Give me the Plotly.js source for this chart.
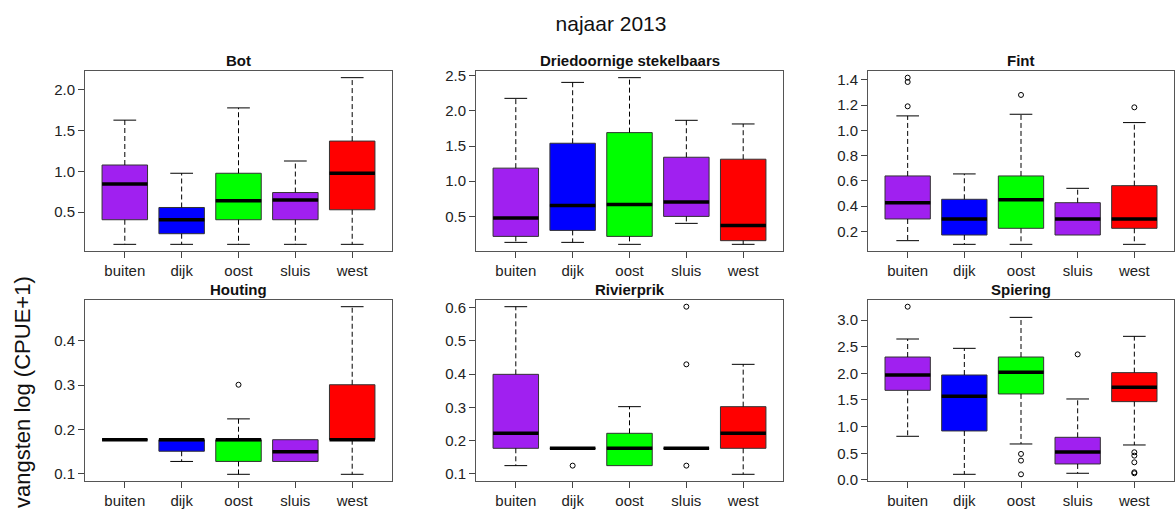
<!DOCTYPE html>
<html>
<head>
<meta charset="utf-8">
<script src="https://cdn.plot.ly/plotly-3.0.1.min.js"></script>
<style>html,body{margin:0;padding:0;background:#fff;}#chart{width:1175px;height:509px;}</style>
</head>
<body>
<div id="chart"></div>
<script>
// ---- data ----
const categories = ['buiten', 'dijk', 'oost', 'sluis', 'west'];

const botLower  = [0.106, 0.106, 0.106, 0.106, 0.106];
const botQ1     = [0.407, 0.236, 0.407, 0.407, 0.529];
const botMedian = [0.846, 0.407, 0.638, 0.650, 0.976];
const botQ3     = [1.077, 0.557, 0.976, 0.740, 1.370];
const botUpper  = [1.626, 0.976, 1.776, 1.126, 2.146];
const botOutliers = [[], [], [], [], []];

const stekLower  = [0.131, 0.131, 0.103, 0.401, 0.103];
const stekQ1     = [0.216, 0.301, 0.216, 0.500, 0.155];
const stekMedian = [0.476, 0.656, 0.670, 0.703, 0.372];
const stekQ3     = [1.186, 1.540, 1.691, 1.341, 1.313];
const stekUpper  = [2.178, 2.405, 2.472, 1.866, 1.814];
const stekOutliers = [[], [], [], [], []];

const fintLower  = [0.126, 0.097, 0.097, 0.171, 0.097];
const fintQ1     = [0.298, 0.171, 0.224, 0.171, 0.224];
const fintMedian = [0.427, 0.298, 0.451, 0.298, 0.298];
const fintQ3     = [0.639, 0.454, 0.639, 0.427, 0.562];
const fintUpper  = [1.115, 0.655, 1.128, 0.541, 1.062];
const fintOutliers = [[1.418, 1.384, 1.191], [], [1.281], [], [1.183]];

const houtLower  = [0.177, 0.128, 0.099, 0.128, 0.099];
const houtQ1     = [0.177, 0.151, 0.128, 0.128, 0.177];
const houtMedian = [0.177, 0.177, 0.177, 0.150, 0.177];
const houtQ3     = [0.177, 0.177, 0.177, 0.177, 0.301];
const houtUpper  = [0.177, 0.177, 0.224, 0.177, 0.477];
const houtOutliers = [[], [], [0.301], [], []];

const rivLower  = [0.125, 0.177, 0.125, 0.177, 0.099];
const rivQ1     = [0.177, 0.177, 0.125, 0.177, 0.177];
const rivMedian = [0.222, 0.177, 0.177, 0.177, 0.222];
const rivQ3     = [0.399, 0.177, 0.222, 0.177, 0.302];
const rivUpper  = [0.602, 0.177, 0.302, 0.177, 0.429];
const rivOutliers = [[], [0.125], [], [0.602, 0.429, 0.125], []];

const spiLower  = [0.819, 0.106, 0.675, 0.125, 0.656];
const spiQ1     = [1.681, 0.919, 1.613, 0.300, 1.469];
const spiMedian = [1.969, 1.569, 2.019, 0.525, 1.738];
const spiQ3     = [2.306, 1.969, 2.306, 0.800, 2.013];
const spiUpper  = [2.644, 2.469, 3.050, 1.519, 2.694];
const spiOutliers = [[3.250], [], [0.488, 0.363, 0.106], [2.356], [0.519, 0.456, 0.331, 0.144, 0.125]];

const panelTitles = ['Bot', 'Driedoornige stekelbaars', 'Fint', 'Houting', 'Rivierprik', 'Spiering'];
const mainTitle = 'najaar 2013';
const yAxisTitle = 'vangsten log (CPUE+1)';

// ---- styling ----
const boxColors = ['#A020F0', '#0000FF', '#00FF00', '#A020F0', '#FF0000'];
const panels = [
  {lo: botLower, q1: botQ1, med: botMedian, q3: botQ3, hi: botUpper, out: botOutliers, dtick: 0.5},
  {lo: stekLower, q1: stekQ1, med: stekMedian, q3: stekQ3, hi: stekUpper, out: stekOutliers, dtick: 0.5},
  {lo: fintLower, q1: fintQ1, med: fintMedian, q3: fintQ3, hi: fintUpper, out: fintOutliers, dtick: 0.2},
  {lo: houtLower, q1: houtQ1, med: houtMedian, q3: houtQ3, hi: houtUpper, out: houtOutliers, dtick: 0.1},
  {lo: rivLower, q1: rivQ1, med: rivMedian, q3: rivQ3, hi: rivUpper, out: rivOutliers, dtick: 0.1},
  {lo: spiLower, q1: spiQ1, med: spiMedian, q3: spiQ3, hi: spiUpper, out: spiOutliers, dtick: 0.5}
];

const W = 1175, H = 509;
const colPx = [[85, 392], [476, 783], [868, 1174]];
const rowPx = [[71, 251], [300, 481]];
const boxHalf = 0.4, capHalf = 0.2;

const traces = [];
const layout = {
  width: W, height: H,
  margin: {l: 0, r: 0, t: 0, b: 0},
  paper_bgcolor: '#fff', plot_bgcolor: '#fff',
  showlegend: false,
  font: {family: 'Liberation Sans, Arial, sans-serif', color: '#222'},
  annotations: [],
  title: {text: mainTitle, x: 611 / W, xanchor: 'center', y: 1 - 24 / H, yanchor: 'middle',
          font: {size: 21, color: '#111', family: 'Liberation Sans, Arial, sans-serif'}}
};

panels.forEach((p, i) => {
  const k = i + 1;
  const xa = k === 1 ? 'x' : 'x' + k;
  const ya = k === 1 ? 'y' : 'y' + k;
  const col = i % 3, row = Math.floor(i / 3);
  const pos = categories.map((c, j) => j + 1);

  // R-like range: data extent +4%
  let all = [].concat(p.lo, p.hi);
  p.out.forEach(a => { all = all.concat(a); });
  const mn = Math.min(...all), mx = Math.max(...all);
  const pad = (mx - mn) * 0.04;

  layout['xaxis' + (k === 1 ? '' : k)] = {
    domain: [colPx[col][0] / W, colPx[col][1] / W],
    anchor: ya, range: [0.3, 5.7],
    tickmode: 'array', tickvals: pos, ticktext: categories,
    ticks: 'outside', ticklen: 6, tickcolor: '#444',
    showline: true, mirror: true, linecolor: '#555', linewidth: 1,
    showgrid: false, zeroline: false, fixedrange: true,
    tickfont: {size: 15, color: '#222'}
  };
  layout['yaxis' + (k === 1 ? '' : k)] = {
    domain: [1 - rowPx[row][1] / H, 1 - rowPx[row][0] / H],
    anchor: xa, range: [mn - pad, mx + pad],
    tick0: 0, dtick: p.dtick, tickformat: '.1f',
    ticks: 'outside', ticklen: 6, tickcolor: '#444',
    showline: true, mirror: true, linecolor: '#555', linewidth: 1,
    showgrid: false, zeroline: false, fixedrange: true,
    tickfont: {size: 15, color: '#222'}
  };
  layout.annotations.push({
    text: '<b>' + panelTitles[i] + '</b>', xref: xa + ' domain', yref: ya + ' domain',
    x: 0.5, y: 1, xanchor: 'center', yanchor: 'bottom', yshift: 0, showarrow: false,
    font: {size: 15, color: '#111'}
  });

  categories.forEach((c, j) => {
    const x = pos[j];
    // whiskers (dashed)
    traces.push({type: 'scatter', mode: 'lines', xaxis: xa, yaxis: ya, hoverinfo: 'skip',
      x: [x, x, null, x, x], y: [p.q3[j], p.hi[j], null, p.q1[j], p.lo[j]],
      line: {color: '#000', width: 1, dash: '5px,3px'}});
    // staples
    const caps = {x: [], y: []};
    if (p.hi[j] > p.q3[j]) { caps.x.push(x - capHalf, x + capHalf, null); caps.y.push(p.hi[j], p.hi[j], null); }
    if (p.lo[j] < p.q1[j]) { caps.x.push(x - capHalf, x + capHalf, null); caps.y.push(p.lo[j], p.lo[j], null); }
    if (caps.x.length) traces.push({type: 'scatter', mode: 'lines', xaxis: xa, yaxis: ya, hoverinfo: 'skip',
      x: caps.x, y: caps.y, line: {color: '#000', width: 1}});
    // box
    traces.push({type: 'box', xaxis: xa, yaxis: ya, x: [x],
      q1: [p.q1[j]], median: [p.med[j]], q3: [p.q3[j]],
      lowerfence: [p.q1[j]], upperfence: [p.q3[j]],
      width: boxHalf * 2, whiskerwidth: 0, fillcolor: boxColors[j],
      line: {color: '#333', width: 1}, boxpoints: false, hoverinfo: 'skip'});
    // thick median
    traces.push({type: 'scatter', mode: 'lines', xaxis: xa, yaxis: ya, hoverinfo: 'skip',
      x: [x - boxHalf, x + boxHalf], y: [p.med[j], p.med[j]],
      line: {color: '#000', width: 3.5}});
    // outliers
    if (p.out[j].length) traces.push({type: 'scatter', mode: 'markers', xaxis: xa, yaxis: ya, hoverinfo: 'skip',
      x: p.out[j].map(() => x), y: p.out[j],
      marker: {symbol: 'circle-open', size: 5, color: '#000', line: {width: 1, color: '#000'}}});
  });
});

layout.annotations.push({
  text: yAxisTitle, xref: 'paper', yref: 'paper', x: 22 / W, y: 1 - 392 / H,
  xanchor: 'center', yanchor: 'middle', textangle: -90, showarrow: false,
  font: {size: 22, color: '#111'}
});

Plotly.newPlot('chart', traces, layout, {displayModeBar: false, staticPlot: true});
</script>
</body>
</html>
